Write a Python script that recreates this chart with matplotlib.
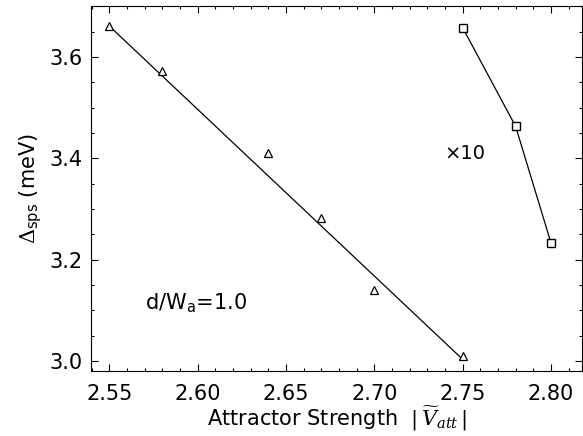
import matplotlib.pyplot as plt
from matplotlib.ticker import MultipleLocator

plt.rcParams['font.family'] = ['DejaVu Sans']
plt.rcParams['mathtext.fontset'] = 'dejavuserif'

# Data
tri_x = [2.55, 2.58, 2.64, 2.67, 2.70, 2.75]
tri_y = [3.661, 3.573, 3.410, 3.283, 3.140, 3.010]
fit_x = [2.55, 2.75]
fit_y = [3.661, 3.003]
sq_x = [2.75, 2.78, 2.80]
sq_y = [3.658, 3.463, 3.233]

fig, ax = plt.subplots(figsize=(5.83, 4.36), dpi=100)
fig.subplots_adjust(left=0.156, right=0.999, top=0.986, bottom=0.149)

ax.plot(fit_x, fit_y, color='black', lw=0.9)
ax.plot(tri_x, tri_y, linestyle='none', marker='^', ms=6, mfc='white', mec='black', mew=0.9)
ax.plot(sq_x, sq_y, color='black', lw=0.9, marker='s', ms=6, mfc='white', mec='black', mew=1.0)

ax.text(2.751, 3.41, '×10', fontsize=14, ha='center', va='center')
ax.text(2.599, 3.114, 'd/W$_\\mathregular{a}$=1.0', fontsize=15, ha='center', va='center')

ax.set_xlim(2.5395, 2.8178)
ax.set_ylim(2.980, 3.7007)
ax.xaxis.set_major_locator(MultipleLocator(0.05))
ax.xaxis.set_minor_locator(MultipleLocator(0.01))
ax.yaxis.set_major_locator(MultipleLocator(0.2))
ax.yaxis.set_minor_locator(MultipleLocator(0.05))
ax.xaxis.set_major_formatter(plt.FormatStrFormatter('%.2f'))
ax.yaxis.set_major_formatter(plt.FormatStrFormatter('%.1f'))
ax.tick_params(which='both', direction='in', top=True, right=True, labelsize=15, width=0.8)
ax.tick_params(which='major', length=5)
ax.tick_params(which='minor', length=2.5)
ax.tick_params(axis='x', which='major', pad=9)
ax.tick_params(axis='y', which='major', pad=6)

ax.set_xlabel('Attractor Strength  $|\\,\\widetilde{V}_{att}\\,|$', fontsize=15, labelpad=1)
ax.set_ylabel('$\\Delta_\\mathregular{sps}$ (meV)', fontsize=15, labelpad=4)

plt.savefig('out.png')
